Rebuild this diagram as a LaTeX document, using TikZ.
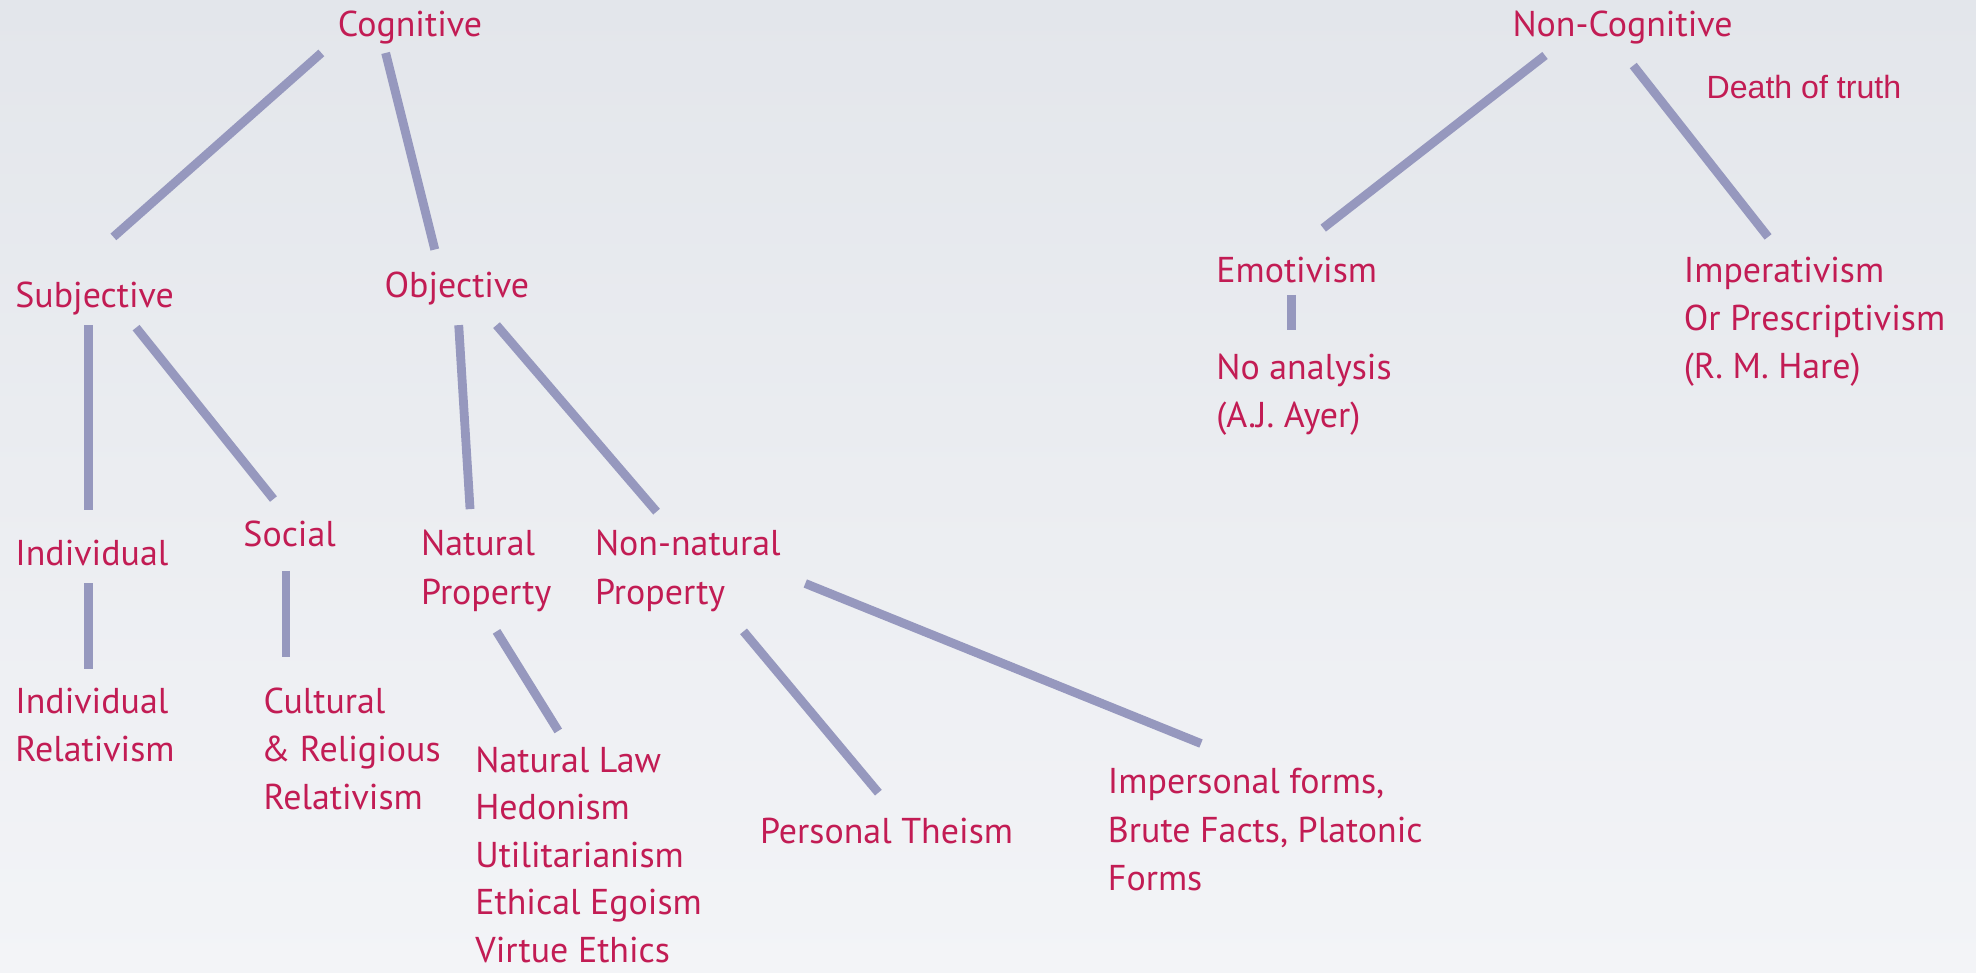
\documentclass[tikz,border=0pt]{standalone}
\usepackage{fontspec}
\setmainfont{PT Sans}
\newfontfamily\helv{Liberation Sans}
\definecolor{txt}{RGB}{194,28,84}
\definecolor{ln}{RGB}{150,152,190}
\definecolor{bgA}{RGB}{227,230,235}
\definecolor{bgB}{RGB}{243,244,247}
\newcommand\ml[1]{\vtop{#1}}
\begin{document}
\begin{tikzpicture}[x=1pt,y=-1pt,
  lbl/.style={text=txt, anchor=base west, inner sep=0pt, font=\fontsize{28.5}{38.3}\selectfont},
  conn/.style={draw=ln, line width=7pt}]
\shade[top color=bgA, bottom color=bgB] (0,0) rectangle (1568,772);
\useasboundingbox (0,0) rectangle (1568,772);

% labels
\node[lbl] (cog) at (268,29) {Cognitive};
\node[lbl] (noncog) at (1200,29) {Non-Cognitive};
\node[lbl, font=\helv\fontsize{25.5}{30}\selectfont] (death) at (1354,78) {Death of truth};
\node[lbl] (subj) at (12,244) {Subjective};
\node[lbl] (obj) at (305,236) {Objective};
\node[lbl] (emot) at (965,224) {Emotivism};
\node[lbl] (imper) at (1336,224) {\ml{\hbox{Imperativism}\hbox{Or Prescriptivism}\hbox{(R. M. Hare)}}};
\node[lbl] (noan) at (965,301) {\ml{\hbox{No analysis}\hbox{(A.J. Ayer)}}};
\node[lbl] (indiv) at (12,449) {Individual};
\node[lbl] (social) at (193,434) {Social};
\node[lbl] (natural) at (334,441) {\ml{\hbox{Natural}\hbox{Property}}};
\node[lbl] (nonnat) at (472,441) {\ml{\hbox{Non-natural}\hbox{Property}}};
\node[lbl] (indrel) at (12,566) {\ml{\hbox{Individual}\hbox{Relativism}}};
\node[lbl] (cult) at (209,566) {\ml{\hbox{Cultural}\hbox{\kern-2pt\& Religious}\hbox{Relativism}}};
\node[lbl, font=\fontsize{28.5}{37.6}\selectfont] (natlaw) at (377,613) {\ml{\hbox{Natural Law}\hbox{Hedonism}\hbox{Utilitarianism}\hbox{Ethical Egoism}\hbox{Virtue Ethics}}};
\node[lbl] (personal) at (603,669) {Personal Theism};
\node[lbl] (imperson) at (879,630) {\ml{\hbox{Impersonal forms,}\hbox{Brute Facts, Platonic}\hbox{Forms}}};

% connector end points
\coordinate (c1a) at (255,42);  \coordinate (c1b) at (90,188);
\coordinate (c2a) at (306,42);  \coordinate (c2b) at (345,198);
\coordinate (c3a) at (1226,44); \coordinate (c3b) at (1050,181);
\coordinate (c4a) at (1296,52); \coordinate (c4b) at (1403,188);
\coordinate (c5a) at (70,258);  \coordinate (c5b) at (70,405);
\coordinate (c6a) at (108,260); \coordinate (c6b) at (217,396);
\coordinate (c7a) at (364,258); \coordinate (c7b) at (373,404);
\coordinate (c8a) at (394,258); \coordinate (c8b) at (521,406);
\coordinate (c9a) at (1025,234); \coordinate (c9b) at (1025,262);
\coordinate (c10a) at (70,463); \coordinate (c10b) at (70,531);
\coordinate (c11a) at (227,453); \coordinate (c11b) at (227,521);
\coordinate (c12a) at (394,501); \coordinate (c12b) at (443,580);
\coordinate (c13a) at (590,501); \coordinate (c13b) at (697,629);
\coordinate (c14a) at (639,463); \coordinate (c14b) at (953,590);

\draw[conn] (c1a) -- (c1b);
\draw[conn] (c2a) -- (c2b);
\draw[conn] (c3a) -- (c3b);
\draw[conn] (c4a) -- (c4b);
\draw[conn] (c5a) -- (c5b);
\draw[conn] (c6a) -- (c6b);
\draw[conn] (c7a) -- (c7b);
\draw[conn] (c8a) -- (c8b);
\draw[conn] (c9a) -- (c9b);
\draw[conn] (c10a) -- (c10b);
\draw[conn] (c11a) -- (c11b);
\draw[conn] (c12a) -- (c12b);
\draw[conn] (c13a) -- (c13b);
\draw[conn] (c14a) -- (c14b);
\end{tikzpicture}
\end{document}
